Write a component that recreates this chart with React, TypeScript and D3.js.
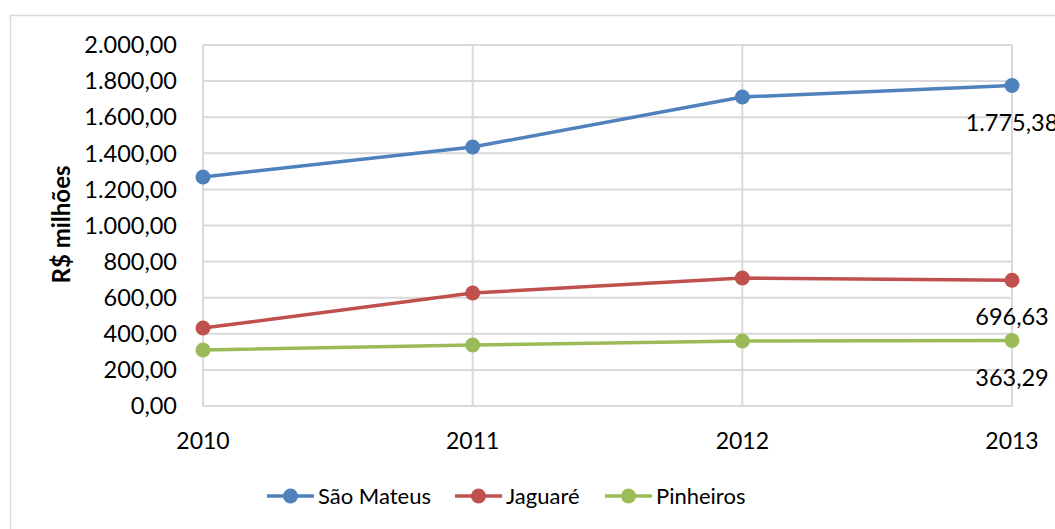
import React from 'react';
import * as d3 from 'd3';

const years = ['2010', '2011', '2012', '2013'];
const saoMateus = [1269, 1435, 1712, 1775.38];
const jaguare = [432, 626, 709, 696.63];
const pinheiros = [310, 338, 360, 363.29];
const yTicks = [0, 200, 400, 600, 800, 1000, 1200, 1400, 1600, 1800, 2000];

const seriesList = [
  { name: 'São Mateus', values: saoMateus, color: '#4F81BD' },
  { name: 'Jaguaré', values: jaguare, color: '#C0504D' },
  { name: 'Pinheiros', values: pinheiros, color: '#9BBB59' },
];

const fmt = (v: number) => {
  const s = v.toFixed(2).split('.');
  const int = s[0].replace(/\B(?=(\d{3})+(?!\d))/g, '.');
  return int + ',' + s[1];
};

const font = 'Lato, "Noto Sans", sans-serif';

export default function App() {
  const width = 1055;
  const height = 529;
  const x = d3.scalePoint<string>().domain(years).range([203, 1012]);
  const y = d3.scaleLinear().domain([0, 2000]).range([406, 45]);
  const line = d3
    .line<number>()
    .x((_, i) => x(years[i]) as number)
    .y(d => y(d));

  const legendX = [267, 455, 605];

  return (
    <svg
      width={width}
      height={height}
      style={{ position: 'fixed', left: 0, top: 0, background: '#fff' }}
      fontFamily={font}
    >
      <rect x={10.5} y={15.5} width={1080} height={540} fill="#fff" stroke="#D9D9D9" strokeWidth={1.5} />
      {yTicks.map(t => (
        <line key={'h' + t} x1={203} x2={1012} y1={y(t)} y2={y(t)} stroke="#D9D9D9" strokeWidth={2} />
      ))}
      {years.map(yr => (
        <line key={'v' + yr} x1={x(yr)} x2={x(yr)} y1={45} y2={406} stroke="#D9D9D9" strokeWidth={2} />
      ))}
      {yTicks.map(t => (
        <text key={'t' + t} x={177} y={y(t)} dy="0.35em" textAnchor="end" fontSize={23.5} fill="#000">
          {fmt(t)}
        </text>
      ))}
      {years.map(yr => (
        <text key={'x' + yr} x={x(yr)} y={441} dy="0.35em" textAnchor="middle" fontSize={23} fill="#000">
          {yr}
        </text>
      ))}
      <text
        transform={`translate(62,${y(1000) - 1}) rotate(-90)`}
        textAnchor="middle"
        dy="0.35em"
        fontSize={24}
        fontWeight="bold"
        fill="#000"
      >
        R$ milhões
      </text>
      {seriesList.map(s => (
        <g key={s.name}>
          <path d={line(s.values) || ''} fill="none" stroke={s.color} strokeWidth={3.5} />
          {s.values.map((v, i) => (
            <circle key={i} cx={x(years[i]) as number} cy={y(v)} r={7.5} fill={s.color} />
          ))}
          <text
            x={x(years[3]) as number}
            y={y(s.values[3]) + 37}
            dy="0.35em"
            textAnchor="middle"
            fontSize={23.5}
            fill="#000"
          >
            {fmt(s.values[3])}
          </text>
        </g>
      ))}
      {seriesList.map((s, i) => (
        <g key={'l' + s.name} transform={`translate(${legendX[i]},496)`}>
          <line x1={0} x2={47} y1={0} y2={0} stroke={s.color} strokeWidth={3.5} />
          <circle cx={23.5} cy={0} r={7.5} fill={s.color} />
          <text x={51} y={0} dy="0.35em" fontSize={22} fill="#000">
            {s.name}
          </text>
        </g>
      ))}
    </svg>
  );
}
